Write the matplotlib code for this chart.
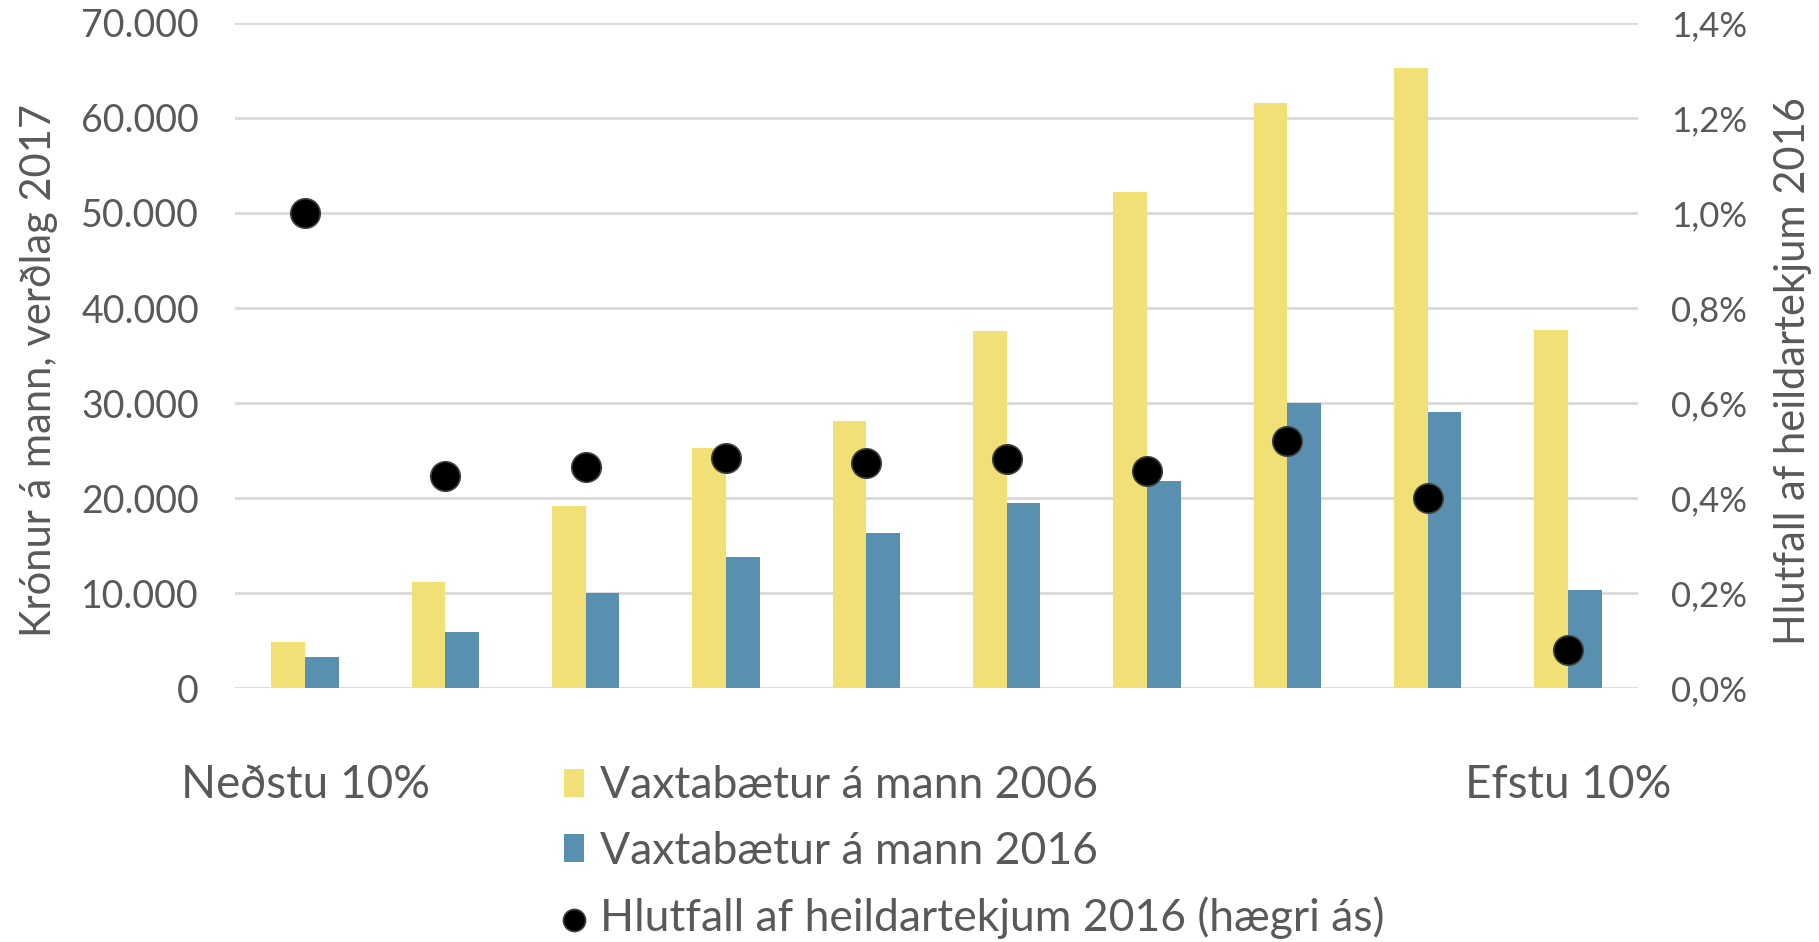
import numpy as np
import matplotlib.pyplot as plt
from matplotlib.ticker import FuncFormatter

# =========================
# gögn
# =========================
deciles = ['Neðstu 10%', '', '', '', '', '', '', '', '', 'Efstu 10%']
vaxtabaetur_2006 = [4870, 11200, 19140, 25280, 28100, 37550, 52220, 61570, 65270, 37650]
vaxtabaetur_2016 = [3310, 5850, 9990, 13830, 16270, 19430, 21820, 30000, 29030, 10280]
hlutfall_2016 = [1.00, 0.446, 0.466, 0.484, 0.474, 0.482, 0.457, 0.520, 0.401, 0.081]

yellow = '#F1E076'
blue = '#5990AF'
txt = '#595959'
grid_c = '#D9D9D9'

plt.rcParams['font.family'] = ['Lato', 'DejaVu Sans']

fig = plt.figure(figsize=(18.19, 9.42), dpi=100)
ax = fig.add_axes([0.1292, 0.2696, 0.9005 - 0.1292, 0.9756 - 0.2696])

x = np.arange(len(deciles))
w = 0.24

b1 = ax.bar(x - w / 2, vaxtabaetur_2006, w, color=yellow, label='Vaxtabætur á mann 2006', zorder=2)
b2 = ax.bar(x + w / 2, vaxtabaetur_2016, w, color=blue, label='Vaxtabætur á mann 2016', zorder=2)

ax.set_xlim(-0.5, len(deciles) - 0.5)
ax.set_ylim(0, 70000)
ax.set_yticks(np.arange(0, 70001, 10000))
ax.yaxis.set_major_formatter(FuncFormatter(lambda v, p: f'{int(v):,}'.replace(',', '.')))
ax.grid(axis='y', color=grid_c, linewidth=2, zorder=0)
for s in ax.spines.values():
    s.set_visible(False)
ax.tick_params(axis='y', length=0, pad=26, labelsize=27, labelcolor=txt)
ax.set_xticks(x)
ax.set_xticklabels(deciles)
ax.tick_params(axis='x', length=0, pad=55, labelsize=33, labelcolor=txt)
ax.set_ylabel('Krónur á mann, verðlag 2017', fontsize=30, color=txt)
ax.yaxis.set_label_coords(-0.126, 0.477)

# hægri ás
ax2 = ax.twinx()
ax2.set_ylim(0, 1.4)
ax2.set_yticks(np.arange(0, 1.41, 0.2))
ax2.yaxis.set_major_formatter(FuncFormatter(lambda v, p: f'{v:.1f}%'.replace('.', ',')))
for s in ax2.spines.values():
    s.set_visible(False)
ax2.tick_params(axis='y', length=0, pad=24, labelsize=25, labelcolor=txt)
ax2.set_ylabel('Hlutfall af heildartekjum 2016', fontsize=30, color=txt)
ax2.yaxis.set_label_coords(1.097, 0.477)
sc = ax2.scatter(x, hlutfall_2016, s=450, color='black', edgecolor='#404040', linewidth=1.2,
                 zorder=3, label='Hlutfall af heildartekjum 2016 (hægri ás)')

fig.legend(handles=[b1, b2, sc], loc='upper left', bbox_to_anchor=(0.298, 0.211),
           frameon=False, fontsize=32, labelcolor=txt, handlelength=0.45, handleheight=0.6,
           handletextpad=0.35, labelspacing=0.55, borderpad=0, markerscale=0.75)

plt.savefig('out.png', dpi=100)
